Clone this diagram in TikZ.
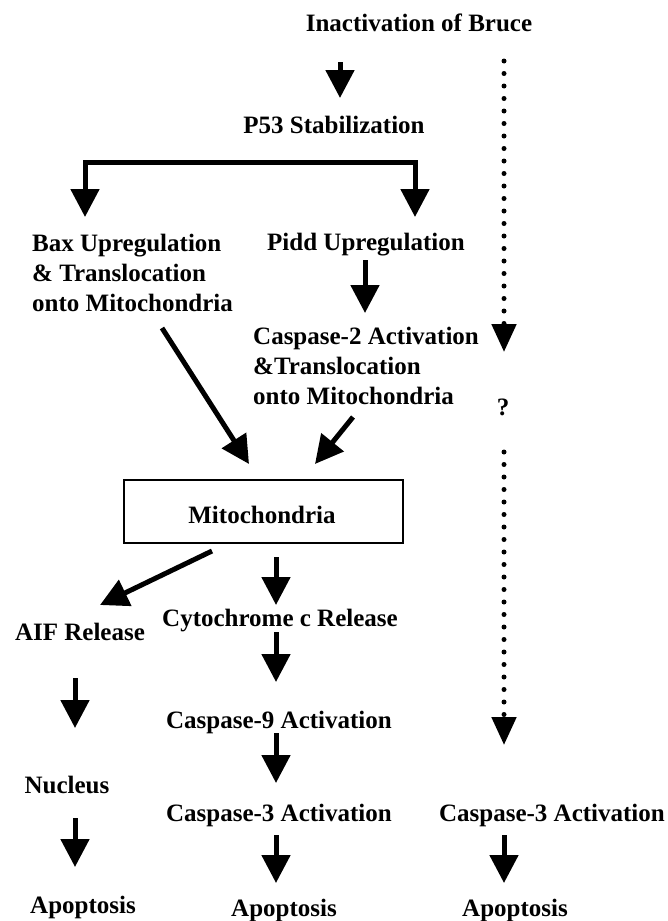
\documentclass[tikz,border=0pt]{standalone}
\usepackage{fontspec}
\setmainfont{Liberation Serif}
\usetikzlibrary{arrows.meta,calc}
\begin{document}
\begin{tikzpicture}[x=1pt,y=-1pt,
  lbl/.style={font=\bfseries\fontsize{25}{30}\selectfont, inner sep=0pt},
  arr/.style={line width=5pt, -{Triangle[width=28pt,length=28pt]}},
  biarr/.style={line width=5pt, {Triangle[width=28pt,length=28pt]}-{Triangle[width=28pt,length=28pt]}},
  dotarr/.style={line width=5pt, line cap=round, dash pattern=on 0pt off 12.5pt, -{Triangle[width=24pt,length=28pt]}},
  boxstyle/.style={draw, line width=2pt, minimum width=279pt, minimum height=63pt, inner sep=0pt}
]
\useasboundingbox (0,0) rectangle (668,921);

% nodes
\node[lbl, anchor=base] (inact) at (419,31) {Inactivation of Bruce};
\node[lbl, anchor=base] (p53) at (334,133) {P53 Stabilization};
\node[lbl, anchor=north west, align=left] (bax) at (32,234) {Bax Upregulation\\\& Translocation\\onto Mitochondria};
\node[lbl, anchor=base west] (pidd) at (267,250) {Pidd Upregulation};
\node[lbl, anchor=north west, align=left] (casp2) at (253,327) {Caspase-2 Activation\\\&Translocation\\onto Mitochondria};
\node[lbl, anchor=base] (q) at (503,415) {?};
\node[boxstyle] (mito) at (263.5,511.5) {};
\node[lbl, anchor=base] (mitolbl) at (262,523) {Mitochondria};
\node[lbl, anchor=base] (aif) at (80,640) {AIF Release};
\node[lbl, anchor=base] (cyto) at (280,626) {Cytochrome c Release};
\node[lbl, anchor=base] (casp9) at (279,728) {Caspase-9 Activation};
\node[lbl, anchor=base] (nucleus) at (67,793) {Nucleus};
\node[lbl, anchor=base] (casp3m) at (279,821) {Caspase-3 Activation};
\node[lbl, anchor=base] (casp3r) at (552,821) {Caspase-3 Activation};
\node[lbl, anchor=base] (apo1) at (83,913) {Apoptosis};
\node[lbl, anchor=base] (apo2) at (284,916) {Apoptosis};
\node[lbl, anchor=base] (apo3) at (515,916) {Apoptosis};

% connectors
\draw[arr] ($(inact.base)+(-79,31)$) -- ($(p53.base)+(6,-35)$);
\draw[biarr, line join=miter] ($(bax.north west)+(53,-17)$) |- ($(p53.base)+(0,29)$) -| ($(pidd.base west)+(148,-33)$);
\draw[arr] ($(pidd.base west)+(98,10)$) -- ($(casp2.north west)+(112,-14)$);
\draw[arr] ($(bax.north west)+(130,94)$) -- ($(mito.north)+(-14.5,-15)$);
\draw[arr] ($(casp2.north west)+(100,90)$) -- ($(mito.north)+(51.5,-15)$);
\draw[arr] ($(mito.south)+(-51.5,7)$) -- ($(aif.base)+(20,-35)$);
\draw[arr] ($(mito.south)+(12.5,13)$) -- ($(cyto.base)+(-4,-21)$);
\draw[arr] ($(cyto.base)+(-4,6)$) -- ($(casp9.base)+(-3,-46)$);
\draw[arr] ($(aif.base)+(-5,38)$) -- ($(nucleus.base)+(8,-65)$);
\draw[arr] ($(casp9.base)+(-3,5)$) -- ($(casp3m.base)+(-3,-38)$);
\draw[arr] ($(nucleus.base)+(8,25)$) -- ($(apo1.base)+(-8,-46)$);
\draw[arr] ($(casp3m.base)+(-3,14)$) -- ($(apo2.base)+(-8,-33)$);
\draw[arr] ($(casp3r.base)+(-48,14)$) -- ($(apo3.base)+(-11,-33)$);

% dotted connectors
\draw[dotarr] ($(inact.base)+(85,30)$) -- ($(q.base)+(1,-63)$);
\draw[dotarr] ($(q.base)+(1,37)$) -- ($(casp3r.base)+(-48,-76)$);
\end{tikzpicture}
\end{document}
